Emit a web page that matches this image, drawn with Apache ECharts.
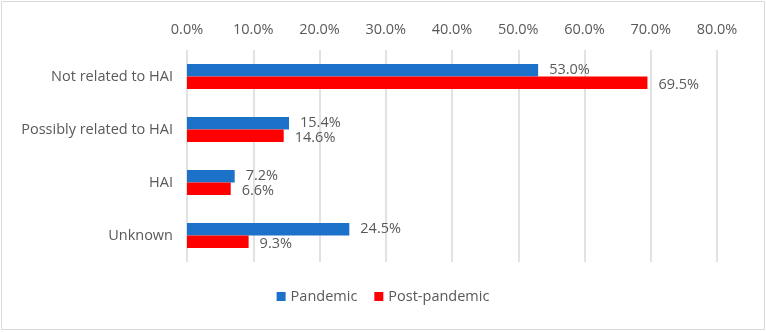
<!DOCTYPE html>
<html>
<head>
<meta charset="utf-8">
<script src="https://cdn.jsdelivr.net/npm/echarts@6/dist/echarts.min.js"></script>
<style>html,body{margin:0;padding:0;background:#fff}#c{width:766px;height:332px}</style>
</head>
<body>
<div id="c"></div>
<script>
const categories = ['Not related to HAI', 'Possibly related to HAI', 'HAI', 'Unknown'];
const pandemic = [53.0, 15.4, 7.2, 24.5];
const postPandemic = [69.5, 14.6, 6.6, 9.3];
const seriesNames = ['Pandemic', 'Post-pandemic'];

const chart = echarts.init(document.getElementById('c'), null, {renderer: 'canvas'});
const font = 'Open Sans';
const fs = 14.5;
const txt = '#595959';
chart.setOption({
  animation: false,
  graphic: [{type: 'rect', shape: {x: 1.5, y: 1.5, width: 763, height: 328}, style: {fill: 'none', stroke: '#d9d9d9', lineWidth: 1}}],
  grid: {left: 187, right: 49, top: 50, bottom: 70},
  legend: {
    bottom: 23, left: 'center', itemWidth: 9, itemHeight: 9, itemGap: 17, icon: 'rect',
    textStyle: {color: txt, fontSize: fs, fontFamily: font}
  },
  xAxis: {
    type: 'value', position: 'top', min: 0, max: 80, interval: 10,
    axisLine: {show: false}, axisTick: {show: false},
    axisLabel: {color: txt, fontSize: fs, fontFamily: font, margin: 13, formatter: v => v.toFixed(1) + '%'},
    splitLine: {lineStyle: {color: '#d9d9d9', width: 1.5}}
  },
  yAxis: {
    type: 'category', data: categories, inverse: true,
    axisLine: {show: false}, axisTick: {show: false},
    axisLabel: {color: txt, fontSize: fs, fontFamily: font, margin: 14}
  },
  series: [
    {name: seriesNames[0], type: 'bar', data: pandemic, barWidth: 12.5, barGap: '0%',
     itemStyle: {color: '#1C72C9'},
     label: {show: true, position: 'right', distance: 11, color: txt, fontSize: fs, fontFamily: font, offset: [0, 0], formatter: p => p.value.toFixed(1) + '%'}},
    {name: seriesNames[1], type: 'bar', data: postPandemic, barWidth: 12.5, barGap: '0%',
     itemStyle: {color: '#FF0000'},
     label: {show: true, position: 'right', distance: 11, color: txt, fontSize: fs, fontFamily: font, offset: [0, 2], formatter: p => p.value.toFixed(1) + '%'}}
  ]
});
</script>
</body>
</html>
